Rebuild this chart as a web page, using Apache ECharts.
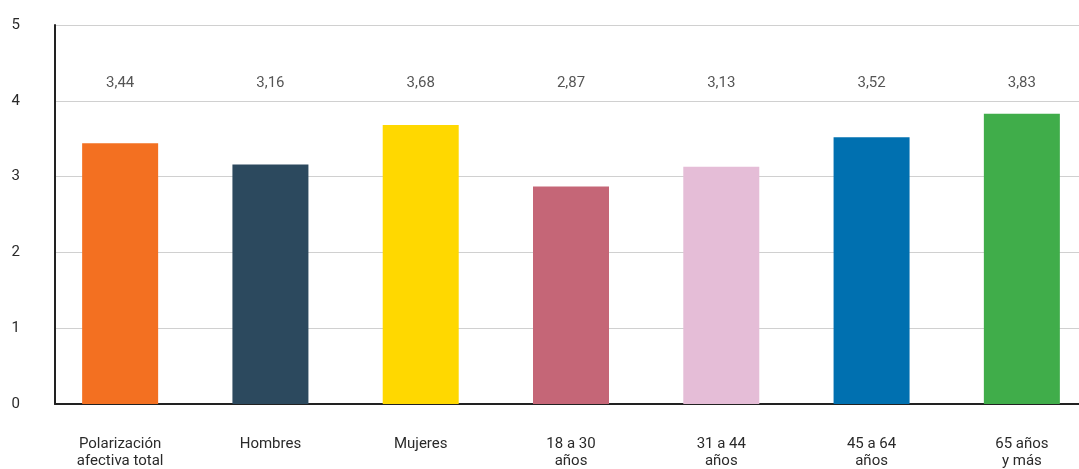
<!DOCTYPE html>
<html>
<head>
<meta charset="utf-8">
<script src="https://cdn.jsdelivr.net/npm/echarts@6/dist/echarts.min.js"></script>
<style>
  html, body { margin: 0; padding: 0; background: #fff; }
  #chart { width: 1079px; height: 469px; }
</style>
</head>
<body>
<div id="chart"></div>
<script>
// categorías y valores medios
const categories = [
  "Polarización\nafectiva total",
  "Hombres",
  "Mujeres",
  "18 a 30\naños",
  "31 a 44\naños",
  "45 a 64\naños",
  "65 años\ny más"
];
const values = [3.44, 3.16, 3.68, 2.87, 3.13, 3.52, 3.83];
const barColors = ["#f37021", "#2c495e", "#ffd800", "#c56677", "#e5bdd7", "#0070b0", "#40ad4a"];
const yTicks = [0, 1, 2, 3, 4, 5];

// altura fija de la fila de etiquetas
const labelRow = 4.23;

const fontFamily = "Roboto, 'Noto Sans', sans-serif";

let chart = echarts.init(document.getElementById("chart"));
chart.setOption({
  animation: false,
  grid: [
    // rejilla de ejes (visible)
    { left: 55, right: 0, top: 25, bottom: 65, containLabel: false },
    // rejilla de barras (se sale un poco por la derecha)
    { left: 45, right: -18, top: 25, bottom: 65, containLabel: false, outerBoundsMode: "none" }
  ],
  xAxis: [
    {
      type: "category",
      gridIndex: 0,
      data: categories,
      axisLine: { show: true, lineStyle: { color: "#222", width: 2 } },
      axisTick: { show: false },
      axisLabel: { show: false },
      splitLine: { show: false }
    },
    {
      type: "category",
      gridIndex: 1,
      data: categories,
      axisLine: { show: false },
      axisTick: { show: false },
      axisLabel: {
        interval: 0,
        margin: 32,
        color: "#2a2a2a",
        fontSize: 15,
        lineHeight: 17,
        fontFamily: fontFamily
      }
    }
  ],
  yAxis: [
    {
      type: "value",
      gridIndex: 0,
      min: yTicks[0],
      max: yTicks[yTicks.length - 1],
      interval: 1,
      axisLine: { show: true, lineStyle: { color: "#222", width: 2 } },
      axisTick: { show: false },
      axisLabel: {
        margin: 35,
        color: "#2a2a2a",
        fontSize: 15,
        fontFamily: fontFamily
      },
      splitLine: { show: true, lineStyle: { color: "#d0d0d0", width: 1 } }
    },
    {
      type: "value",
      gridIndex: 1,
      min: yTicks[0],
      max: yTicks[yTicks.length - 1],
      interval: 1,
      show: false
    }
  ],
  series: [
    {
      type: "bar",
      xAxisIndex: 1,
      yAxisIndex: 1,
      barWidth: 76,
      data: values.map((v, i) => ({ value: v, itemStyle: { color: barColors[i] } }))
    },
    {
      type: "scatter",
      xAxisIndex: 1,
      yAxisIndex: 1,
      symbolSize: 1,
      itemStyle: { color: "transparent" },
      label: {
        show: true,
        position: "inside",
        color: "#2a2a2a",
        fontSize: 15,
        fontFamily: fontFamily,
        formatter: p => values[p.dataIndex].toFixed(2).replace(".", ",")
      },
      data: values.map(() => labelRow)
    }
  ]
});
</script>
</body>
</html>
